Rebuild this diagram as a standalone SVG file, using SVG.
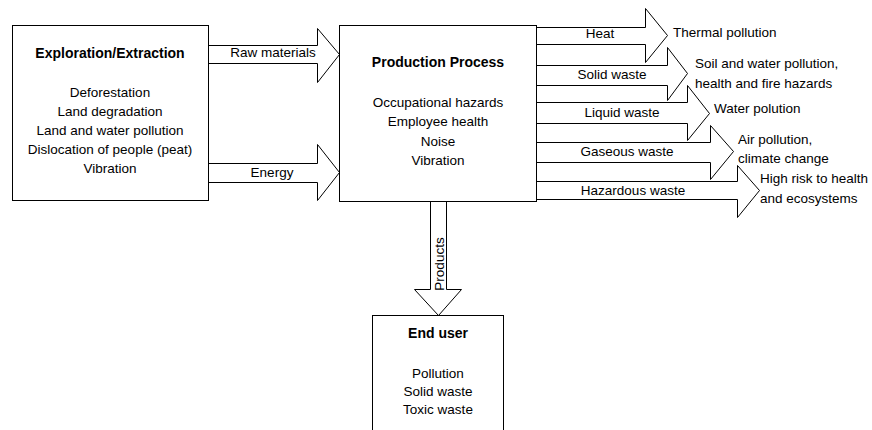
<svg xmlns="http://www.w3.org/2000/svg" width="872" height="430" viewBox="0 0 872 430">
<style>
.box{fill:#fff;stroke:#000;stroke-width:1}
.arr{fill:#fff;stroke:#000;stroke-width:1;stroke-linejoin:miter}
text{font-family:"Liberation Sans",Arial,sans-serif;font-size:13.5px;fill:#000}
.t{font-weight:bold;font-size:14px}
.c{text-anchor:middle}
</style>
<rect width="872" height="430" fill="#fff"/>
<g id="connectors">
<polygon class="arr" points="208.5,45.5 317.5,45.5 317.5,28.5 339.5,54.5 317.5,82.5 317.5,63.5 208.5,63.5"/>
<text class="c" x="273" y="57">Raw materials</text>
<polygon class="arr" points="208.5,163.5 317.5,163.5 317.5,144.5 339.5,172.5 317.5,200.5 317.5,182.5 208.5,182.5"/>
<text class="c" x="272" y="177">Energy</text>
<polygon class="arr" points="536.5,27.5 645.5,27.5 645.5,8.5 667.5,35.5 645.5,62.5 645.5,44.5 536.5,44.5"/>
<text class="c" x="600" y="38">Heat</text>
<polygon class="arr" points="536.5,65.5 667.5,65.5 667.5,47.5 687.5,73.5 667.5,100.5 667.5,85.5 536.5,85.5"/>
<text class="c" x="612" y="79">Solid waste</text>
<polygon class="arr" points="536.5,102.5 687.5,102.5 687.5,85.5 709.5,113.5 687.5,140.5 687.5,123.5 536.5,123.5"/>
<text class="c" x="622" y="117">Liquid waste</text>
<polygon class="arr" points="536.5,142.5 710.5,142.5 710.5,125.5 733.5,151.5 710.5,179.5 710.5,162.5 536.5,162.5"/>
<text class="c" x="627" y="156">Gaseous waste</text>
<polygon class="arr" points="536.5,181.5 737.5,181.5 737.5,165.5 759.5,190.5 737.5,217.5 737.5,199.5 536.5,199.5"/>
<text class="c" x="633" y="195">Hazardous waste</text>
<polygon class="arr" points="430.5,201.5 446.5,201.5 446.5,289.5 461.5,289.5 438.5,315.5 414.5,289.5 430.5,289.5"/>
<text class="c" transform="translate(443.5,264) rotate(-90)">Products</text>
</g>
<g id="exploration">
<rect class="box" x="12.5" y="25.5" width="196" height="175"/>
<text class="t c" x="110" y="58">Exploration/Extraction</text>
<text class="c" x="110" y="97">Deforestation</text>
<text class="c" x="110" y="116">Land degradation</text>
<text class="c" x="110" y="135">Land and water pollution</text>
<text class="c" x="110" y="154">Dislocation of people (peat)</text>
<text class="c" x="110" y="173">Vibration</text>
</g>
<g id="production">
<rect class="box" x="339.5" y="25.5" width="197" height="176"/>
<text class="t c" x="438" y="67">Production Process</text>
<text class="c" x="438" y="107">Occupational hazards</text>
<text class="c" x="438" y="126">Employee health</text>
<text class="c" x="438" y="146">Noise</text>
<text class="c" x="438" y="165">Vibration</text>
</g>
<g id="enduser">
<rect class="box" x="372.5" y="315.5" width="131" height="130"/>
<text class="t c" x="438" y="338">End user</text>
<text class="c" x="438" y="378">Pollution</text>
<text class="c" x="438" y="396">Solid waste</text>
<text class="c" x="438" y="414">Toxic waste</text>
</g>
<g id="effects">
<text x="673" y="37">Thermal pollution</text>
<text x="695" y="68">Soil and water pollution,</text>
<text x="695" y="88">health and fire hazards</text>
<text x="714" y="113">Water polution</text>
<text x="738" y="144">Air pollution,</text>
<text x="738" y="163">climate change</text>
<text x="760" y="183">High risk to health</text>
<text x="760" y="203">and ecosystems</text>
</g>
</svg>
